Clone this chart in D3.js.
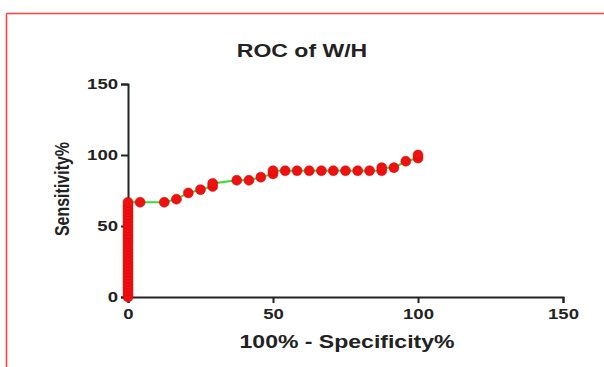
<!DOCTYPE html>
<html>
<head>
<meta charset="utf-8">
<script src="https://cdn.jsdelivr.net/npm/d3@7"></script>
<style>
  body { margin: 0; background: #fff; }
  svg { display: block; font-family: "Liberation Sans", Arial, sans-serif; }
</style>
</head>
<body>
<div id="chart"></div>
<script>
// ROC points: 100% - specificity (x) and sensitivity (y)
const specX = [0, 0, 0, 0, 0, 0, 0, 0, 0, 0, 0, 0, 0, 0, 0, 0, 0, 0, 0, 0, 0, 0, 0, 0, 0, 0, 0, 0, 0, 0, 0,
  4.17, 12.5, 16.7, 20.8, 25, 29.2, 29.2, 37.5, 41.7, 45.8, 50, 50, 54.2, 58.3, 62.5, 66.7, 70.8, 75, 79.2, 83.3,
  87.5, 87.5, 91.7, 95.8, 100, 100];
const sensY = [0, 2.2, 4.4, 6.7, 8.9, 11.1, 13.3, 15.6, 17.8, 20, 22.2, 24.4, 26.7, 28.9, 31.1, 33.3, 35.6, 37.8,
  40, 42.2, 44.4, 46.7, 48.9, 51.1, 53.3, 55.6, 57.8, 60, 62.2, 64.4, 66.7,
  66.7, 66.7, 68.9, 73.3, 75.6, 77.8, 80, 82.2, 82.2, 84.4, 86.7, 88.9, 88.9, 88.9, 88.9, 88.9, 88.9, 88.9, 88.9, 88.9,
  88.9, 91.1, 91.1, 95.6, 97.8, 100];
const xTicks = [0, 50, 100, 150];
const yTicks = [0, 50, 100, 150];

const W = 604, H = 367;
const SX = 1.28; // the picture's text is stretched sideways
const svg = d3.select("#chart").append("svg").attr("width", W).attr("height", H);

// frame (top and left edges only, the rest is cropped)
svg.append("line").attr("x1", 6.5).attr("y1", 13.5).attr("x2", W).attr("y2", 13.5)
  .attr("stroke", "#ff4040").attr("stroke-width", 1.6);
svg.append("line").attr("x1", 6.5).attr("y1", 13.5).attr("x2", 6.5).attr("y2", H)
  .attr("stroke", "#ff4040").attr("stroke-width", 1.6);

const x = d3.scaleLinear().domain([0, 150]).range([128, 563]);
const y = d3.scaleLinear().domain([0, 150]).range([297, 84]);

const xAxis = svg.append("g").attr("transform", "translate(0,297)")
  .call(d3.axisBottom(x).tickValues(xTicks).tickSize(6).tickPadding(4).tickFormat(d3.format("d")));
const yAxis = svg.append("g").attr("transform", "translate(128,0)")
  .call(d3.axisLeft(y).tickValues(yTicks).tickSize(7).tickPadding(3).tickFormat(d3.format("d")));

[xAxis, yAxis].forEach(g => {
  g.select(".domain").attr("stroke", "#222").attr("stroke-width", 2);
  g.selectAll(".tick line").attr("stroke", "#222").attr("stroke-width", 2);
  g.selectAll(".tick text").attr("fill", "#222").style("font-size", "14.5px").style("font-weight", "bold");
});
xAxis.selectAll(".tick text").attr("dy", "0.85em").attr("transform", `scale(${SX},1)`);
yAxis.selectAll(".tick text").attr("x", -10 / SX).attr("transform", `scale(${SX},1)`);

const pts = specX.map((v, i) => ({ x: v, y: sensY[i] }));

svg.append("path").datum(pts)
  .attr("fill", "none").attr("stroke", "#33dd33").attr("stroke-width", 2)
  .attr("d", d3.line().x(d => x(d.x)).y(d => y(d.y)));

svg.append("g").selectAll("circle").data(pts).join("circle")
  .attr("cx", d => x(d.x)).attr("cy", d => y(d.y)).attr("r", 5)
  .attr("fill", "#ee1111").attr("stroke", "#dd0000").attr("stroke-width", 0.5);

svg.append("text").attr("transform", `translate(302,57) scale(${SX},1)`).attr("text-anchor", "middle")
  .attr("fill", "#222").style("font-size", "18px").style("font-weight", "bold").text("ROC of W/H");

svg.append("text").attr("transform", `translate(347,348) scale(${SX},1)`).attr("text-anchor", "middle")
  .attr("fill", "#222").style("font-size", "18px").style("font-weight", "bold").text("100% - Specificity%");

svg.append("text").attr("transform", `translate(69,189) rotate(-90) scale(1,${SX})`).attr("text-anchor", "middle")
  .attr("fill", "#222").style("font-size", "16px").style("font-weight", "bold").text("Sensitivity%");
</script>
</body>
</html>
